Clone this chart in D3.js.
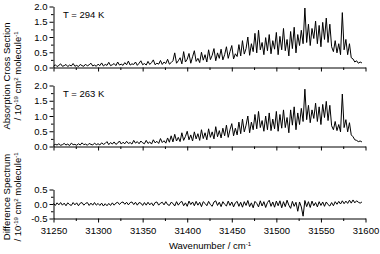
<!DOCTYPE html>
<html>
<head>
<meta charset="utf-8">
<script src="https://cdn.jsdelivr.net/npm/d3@7"></script>
<style>
  body { margin: 0; background: #fff; }
  svg { display: block; font-family: "Liberation Sans", Arial, sans-serif; }
</style>
</head>
<body>
<svg width="380" height="254"></svg>
<script>
// spectra sampled every 2 cm-1 from 31250 cm-1
var startWavenumber = 31250,
    stepWavenumber = 2;

var xMajorTicks = [31250, 31300, 31350, 31400, 31450, 31500, 31550, 31600];
var xMinorTicks = [31275, 31325, 31375, 31425, 31475, 31525, 31575];
var absMajorTicks = [0, 0.5, 1.0, 1.5, 2.0];
var absMinorTicks = [0.25, 0.75, 1.25, 1.75];
var diffMajorTicks = [-0.5, 0, 0.5];
var diffMinorTicks = [-0.25, 0.25];

var spectrum294 = [
  0.04,0.09,0.03,0.07,0.12,0.04,0.06,0.10,0.03,0.08,0.05,0.13,0.04,0.07,0.03,0.10,0.06,0.04,0.11,0.05,0.09,0.14,0.05,0.08,0.04,0.11,
  0.06,0.15,0.05,0.10,0.07,0.17,0.06,0.09,0.13,0.06,0.18,0.08,0.11,0.07,0.16,0.09,0.21,0.08,0.12,0.10,0.18,0.07,0.14,0.22,0.09,
  0.13,0.08,0.20,0.10,0.16,0.25,0.09,0.14,0.11,0.23,0.10,0.18,0.13,0.27,0.11,0.16,0.22,
  0.48,0.14,0.22,0.32,0.12,0.52,0.18,0.27,0.46,0.14,0.35,0.55,0.20,0.30,0.16,0.50,0.24,0.42,
  0.18,0.58,0.26,0.40,0.62,0.22,0.48,0.30,0.60,0.25,0.42,0.68,0.30,0.52,0.72,0.28,0.45,0.36,0.75,
  0.38,0.88,0.44,0.62,1.00,0.40,0.78,0.52,1.12,0.48,1.22,0.58,0.82,0.42,0.98,0.55,1.08,0.45,0.88,0.60,1.15,
  0.42,1.02,0.58,1.28,0.55,0.92,0.38,1.18,0.62,1.32,0.48,1.08,0.72,1.22,0.78,
  1.95,0.82,1.42,0.72,1.28,0.95,1.52,0.78,1.38,0.68,1.48,0.92,1.62,0.82,1.42,
  0.68,0.52,0.88,0.48,0.78,0.42,1.80,0.58,0.92,0.42,0.78,0.32,0.28,0.18,0.22,0.14,0.18,0.15
];

var spectrum263 = [
  0.04,0.07,0.05,0.09,0.04,0.06,0.10,0.05,0.08,0.03,0.11,0.06,0.07,0.04,0.09,0.05,0.12,0.06,0.08,0.04,0.10,0.07,0.05,0.11,0.06,0.09,
  0.05,0.12,0.07,0.10,0.16,0.06,0.13,0.08,0.15,0.07,0.11,0.18,0.08,0.14,0.09,0.17,0.10,0.13,0.08,0.20,0.11,0.16,0.09,0.18,0.12,
  0.09,0.20,0.10,0.15,0.08,0.22,0.12,0.17,0.10,0.26,0.13,0.19,0.11,0.28,0.14,0.35,0.15,
  0.40,0.18,0.30,0.16,0.45,0.20,0.33,0.50,0.22,0.38,0.18,0.48,0.25,0.42,0.20,0.55,0.26,0.45,
  0.22,0.58,0.30,0.48,0.25,0.65,0.32,0.52,0.28,0.60,0.35,0.70,0.30,0.55,0.75,0.35,0.60,0.38,0.80,
  0.42,0.90,0.48,0.70,1.00,0.45,0.80,0.55,1.05,0.58,1.15,0.62,0.85,0.50,1.00,0.55,1.10,0.52,0.90,0.58,1.15,
  0.50,1.05,0.60,1.20,0.62,0.95,0.45,1.20,0.70,1.30,0.55,1.10,0.72,1.25,0.82,
  1.88,0.88,1.35,0.78,1.20,0.92,1.42,0.82,1.30,0.72,1.38,0.95,1.48,0.85,1.35,
  0.68,0.55,0.82,0.52,0.72,0.48,1.72,0.62,0.88,0.48,0.78,0.38,0.32,0.22,0.20,0.16,0.18,0.15
];

var differenceSpectrum = [
  0.02,-0.05,0.04,-0.03,0.05,-0.04,0.03,-0.06,0.04,-0.02,-0.05,0.05,-0.03,0.04,-0.06,0.03,0.05,-0.04,0.02,0.05,-0.05,0.03,-0.04,0.05,-0.04,0.02,
  -0.05,0.03,-0.07,0.01,-0.06,0.02,-0.05,0.04,-0.04,0.03,0.06,-0.02,0.05,0.07,-0.01,0.06,-0.03,0.05,0.07,-0.02,0.06,-0.04,0.05,0.03,-0.05,
  0.05,-0.04,0.06,-0.03,0.04,-0.06,0.05,0.07,-0.04,0.03,0.06,-0.03,0.08,-0.02,-0.05,0.06,0.02,
  -0.07,0.08,-0.04,0.05,0.09,-0.06,0.04,-0.08,0.10,-0.02,0.07,-0.06,0.09,-0.04,0.06,-0.09,0.08,0.02,
  -0.06,0.09,-0.02,-0.08,0.07,0.11,-0.05,0.06,-0.09,0.08,-0.01,-0.07,0.10,-0.05,0.07,-0.10,0.04,0.09,-0.08,
  0.06,-0.11,0.08,-0.05,0.12,-0.09,0.04,-0.13,0.09,0.02,-0.10,0.11,-0.07,0.08,-0.12,0.05,0.13,-0.08,0.07,-0.11,0.10,
  -0.06,0.11,-0.13,0.08,-0.09,0.13,-0.04,-0.15,0.09,-0.08,0.06,-0.25,0.07,-0.10,-0.42,
  0.12,-0.09,0.08,-0.12,0.10,-0.06,0.05,-0.10,0.08,-0.05,0.07,-0.08,0.07,-0.02,-0.07,
  0.05,-0.06,0.08,-0.01,0.09,0.00,0.11,0.01,0.10,0.02,0.13,0.03,0.14,0.04,0.11,0.06,0.03,0.07
];

var svg = d3.select("svg");

var x = d3.scaleLinear()
          .domain([31250, 31600])
          .range([53.5, 365.5]);

var panels = [
  {values: spectrum294, domain: [0, 2], range: [67.5, 6.5], major: absMajorTicks, minor: absMinorTicks, note: "T = 294 K", xLabels: false},
  {values: spectrum263, domain: [0, 2], range: [146.5, 85.5], major: absMajorTicks, minor: absMinorTicks, note: "T = 263 K", xLabels: false},
  {values: differenceSpectrum, domain: [-0.5, 0.5], range: [218.5, 189.5], major: diffMajorTicks, minor: diffMinorTicks, note: null, xLabels: true}
];

function styleAxis(g) {
  g.attr("font-family", null).attr("font-size", null);
  g.selectAll("path, line").attr("stroke", "#000").attr("stroke-width", 1);
  g.selectAll("text").attr("fill", "#000").style("font-size", "9.5px");
}

panels.forEach(function(p) {
  var y = d3.scaleLinear().domain(p.domain).range(p.range);

  // minor ticks first, then major axis with spine
  svg.append("g")
      .attr("transform", "translate(0," + p.range[0] + ")")
      .call(d3.axisBottom(x).tickValues(xMinorTicks).tickSize(2.5).tickSizeOuter(0).tickFormat(""))
      .call(styleAxis)
      .select(".domain").remove();

  svg.append("g")
      .attr("transform", "translate(0," + p.range[0] + ")")
      .call(d3.axisBottom(x).tickValues(xMajorTicks).tickSize(4).tickSizeOuter(0).tickPadding(5)
              .tickFormat(p.xLabels ? function(d) { return d; } : ""))
      .call(styleAxis);

  svg.append("g")
      .attr("transform", "translate(" + x.range()[0] + ",0)")
      .call(d3.axisLeft(y).tickValues(p.minor).tickSize(2.5).tickSizeOuter(0).tickFormat(""))
      .call(styleAxis)
      .select(".domain").remove();

  svg.append("g")
      .attr("transform", "translate(" + x.range()[0] + ",0)")
      .call(d3.axisLeft(y).tickValues(p.major).tickSize(4).tickSizeOuter(0).tickPadding(2)
              .tickFormat(function(d) { return d.toFixed(1); }))
      .call(styleAxis);

  var line = d3.line()
      .x(function(d, i) { return x(startWavenumber + i * stepWavenumber); })
      .y(function(d) { return y(d); });

  svg.append("path")
      .datum(p.values)
      .attr("fill", "none")
      .attr("stroke", "#000")
      .attr("stroke-width", 1)
      .attr("stroke-linejoin", "round")
      .attr("d", line);

  if (p.note) {
    svg.append("text")
        .attr("x", 63)
        .attr("y", p.range[1] + 11.5)
        .style("font-size", "9.5px")
        .text(p.note);
  }
});

// axis titles
function unitLine(t) {
  t.append("tspan").text("/ 10");
  t.append("tspan").attr("dy", -3.5).style("font-size", "6px").text("-19");
  t.append("tspan").attr("dy", 3.5).text(" cm");
  t.append("tspan").attr("dy", -3.5).style("font-size", "6px").text("2");
  t.append("tspan").attr("dy", 3.5).text(" molecule");
  t.append("tspan").attr("dy", -3.5).style("font-size", "6px").text("-1");
}

var absTitle = svg.append("g")
    .attr("transform", "translate(0,76) rotate(-90)")
    .style("font-size", "9.5px")
    .attr("text-anchor", "middle");
absTitle.append("text").attr("y", 10).text("Absorption Cross Section");
absTitle.append("text").attr("y", 21).call(unitLine);

var diffTitle = svg.append("g")
    .attr("transform", "translate(0,197) rotate(-90)")
    .style("font-size", "9.5px")
    .attr("text-anchor", "middle");
diffTitle.append("text").attr("y", 10).text("Difference Spectrum");
diffTitle.append("text").attr("y", 21).call(unitLine);

var xTitle = svg.append("text")
    .attr("x", 210)
    .attr("y", 249)
    .attr("text-anchor", "middle")
    .style("font-size", "9.5px");
xTitle.append("tspan").text("Wavenumber / cm");
xTitle.append("tspan").attr("dy", -3.5).style("font-size", "6px").text("-1");
</script>
</body>
</html>
